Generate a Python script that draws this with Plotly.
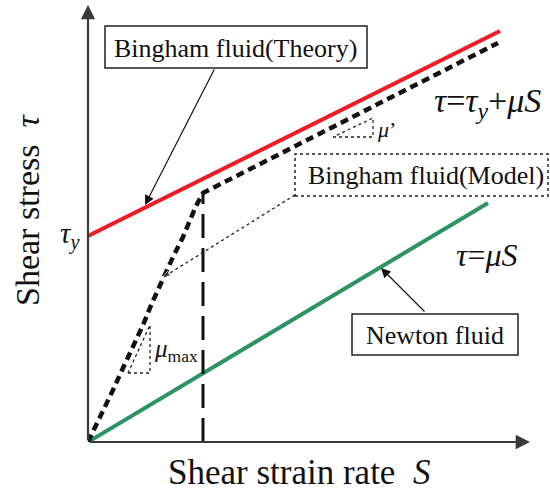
import plotly.graph_objects as go

# ---- data (S = shear strain rate, tau = shear stress, arbitrary units) ----
theory_S = [0.0, 10.3]
theory_tau = [5.15, 10.275]

newton_S = [0.0, 10.0]
newton_tau = [0.0, 5.975]

model_S = [0.0, 0.3, 0.625, 0.875, 1.125, 1.375, 1.6, 1.85, 2.125, 2.375, 2.55, 2.7, 2.875, 10.25]
model_tau = [0.0, 0.6, 1.3, 1.85, 2.375, 2.925, 3.475, 4.05, 4.625, 5.125, 5.55, 5.9, 6.225, 9.975]

yield_S = [2.875, 2.875]
yield_tau = [0.0, 6.225]

mu_prime_S = [6.125, 7.125, 7.125, 6.125]
mu_prime_tau = [7.625, 7.625, 8.1, 7.625]

mu_max_S = [1.0, 1.55, 1.55, 1.0]
mu_max_tau = [1.725, 1.725, 2.925, 1.725]

connector_S = [5.175, 1.85]
connector_tau = [6.175, 4.1]

X_MAX, Y_MAX = 11.05, 10.925

FONT = "Liberation Serif, Times New Roman, serif"
RED = "#ee1c24"
GREEN = "#2b9462"
AXC = "#3a3a3a"

fig = go.Figure()

fig.add_trace(go.Scatter(x=theory_S, y=theory_tau, mode="lines",
                         line=dict(color=RED, width=4), cliponaxis=False, showlegend=False))
fig.add_trace(go.Scatter(x=newton_S, y=newton_tau, mode="lines",
                         line=dict(color=GREEN, width=4), cliponaxis=False, showlegend=False))
fig.add_trace(go.Scatter(x=yield_S, y=yield_tau, mode="lines",
                         line=dict(color="#111", width=3, dash="24px,10px"), cliponaxis=False,
                         showlegend=False))
fig.add_trace(go.Scatter(x=model_S, y=model_tau, mode="lines",
                         line=dict(color="#111", width=4.5, dash="8px,5px"), cliponaxis=False,
                         showlegend=False))
for xs, ys in [(mu_prime_S, mu_prime_tau), (mu_max_S, mu_max_tau)]:
    fig.add_trace(go.Scatter(x=xs, y=ys, mode="lines",
                             line=dict(color="#222", width=1.3, dash="dot"), showlegend=False))
fig.add_trace(go.Scatter(x=connector_S, y=connector_tau, mode="lines+markers",
                         line=dict(color="#222", width=1.3, dash="dot"),
                         marker=dict(symbol="arrow", angleref="previous", size=[0, 9],
                                     color="#222"),
                         showlegend=False))

def px2paper(px, py):
    return (px - 88) / 442, (442 - py) / 437

shapes = []
for (x0, y0, x1, y1, dash) in [(105, 26, 367, 68, "solid"), (295, 154, 548, 196, "dot"),
                                (352, 314, 518, 355, "solid")]:
    a0, b1 = px2paper(x0, y0)
    a1, b0 = px2paper(x1, y1)
    shapes.append(dict(type="rect", xref="paper", yref="paper", x0=a0, x1=a1, y0=b0, y1=b1,
                       line=dict(color="#222", width=1.5, dash=dash), fillcolor="white",
                       layer="above"))

ann = []
def text(px, py, t, size, **kw):
    x, y = px2paper(px, py)
    d = dict(xref="paper", yref="paper", x=x, y=y, text=t, showarrow=False,
             font=dict(family=FONT, size=size, color="#111"), xanchor="center", yanchor="middle")
    d.update(kw)
    ann.append(d)

text(235, 48, "Bingham fluid(Theory)", 26)
text(426, 176, "Bingham fluid(Model)", 26)
text(435, 335, "Newton fluid", 26)
text(487, 103, "<i>τ</i>=<i>τ<sub>y</sub></i>+<i>μS</i>", 34)
text(487, 255, "<i>τ</i>=<i>μS</i>", 32)
text(386, 129, "<i>μ</i>’", 22)
text(176, 350, "<i>μ</i><sub>max</sub>", 25)
text(70, 236, "<i>τ<sub>y</sub></i>", 29)
text(299, 472, "Shear strain rate  <i>S</i>", 35)
text(27, 210, "Shear stress  <i>τ</i>", 34, textangle=-90)

# arrows (pointer annotations)
def arrow(hx, hy, tx, ty, width, color, head=2, size=1.0):
    ann.append(dict(x=hx, y=hy, ax=tx, ay=ty, xref="x", yref="y", axref="x", ayref="y",
                    text="", showarrow=True, arrowhead=head, arrowsize=size,
                    arrowwidth=width, arrowcolor=color))

arrow(1.425, 5.925, 3.175, 9.35, 1.2, "#111", head=2, size=1.6)
arrow(7.325, 4.35, 8.45, 3.225, 1.2, "#111", head=2, size=1.6)
# axes with arrow heads
arrow(X_MAX, 0, 0, 0, 2.2, AXC, head=2, size=1.3)
arrow(0, Y_MAX, 0, 0, 2.2, AXC, head=2, size=1.3)

fig.update_layout(
    width=550, height=492,
    margin=dict(l=88, r=20, t=5, b=50),
    paper_bgcolor="white", plot_bgcolor="white",
    xaxis=dict(range=[0, X_MAX], visible=False, fixedrange=True),
    yaxis=dict(range=[0, Y_MAX], visible=False, fixedrange=True),
    shapes=shapes, annotations=ann, showlegend=False,
)

fig.write_html("out.html", config={"displayModeBar": False},
               post_script="document.body.style.margin='0';document.body.style.overflow='hidden';")
